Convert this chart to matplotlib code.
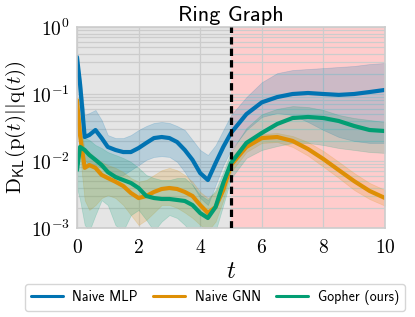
import numpy as np
import matplotlib
matplotlib.use('Agg')
import matplotlib.pyplot as plt

plt.rcParams['mathtext.fontset'] = 'cm'

# time grid shared by every series
t = [0, 0.1, 0.25, 0.4, 0.6, 0.8,
     1.0, 1.25, 1.5, 1.75, 2.0, 2.25, 2.5, 2.75, 3.0, 3.25, 3.5, 3.75,
     4.0, 4.25, 4.5, 4.75, 5.0,
     5.5, 6.0, 6.5, 7.0, 7.5, 8.0, 8.5, 9.0, 9.5, 10.0]

mlp_mean = [0.356, 0.14, 0.0228, 0.0244, 0.029, 0.022,
            0.0162, 0.0146, 0.0136, 0.0136, 0.0156, 0.0186, 0.022, 0.0228, 0.022, 0.0192, 0.0146, 0.0104,
            0.0066, 0.0052, 0.0093, 0.0162, 0.0262,
            0.050, 0.075, 0.090, 0.100, 0.1035, 0.100, 0.097, 0.100, 0.107, 0.115]
mlp_hi = [0.356, 0.2, 0.0486, 0.052, 0.0577, 0.0409,
          0.0244, 0.022, 0.022, 0.0244, 0.029, 0.0333, 0.037, 0.0382, 0.037, 0.0333, 0.029, 0.0206,
          0.0146, 0.0123, 0.0173, 0.029, 0.0486,
          0.090, 0.15, 0.205, 0.228, 0.236, 0.244, 0.253, 0.262, 0.28, 0.29]
mlp_lo = [0.356, 0.03, 0.0104, 0.0087, 0.0087, 0.0079,
          0.00685, 0.00618, 0.00618, 0.0073, 0.0087, 0.0104, 0.0115, 0.0118, 0.0115, 0.0097, 0.00685, 0.00439,
          0.0028, 0.0022, 0.0044, 0.0087, 0.0146,
          0.029, 0.0454, 0.052, 0.0486, 0.0382, 0.029, 0.0228, 0.0199, 0.0186, 0.0186]

gnn_mean = [0.0813, 0.024, 0.0079, 0.0087, 0.0079, 0.0062,
            0.00557, 0.0049, 0.00424, 0.00333, 0.0028, 0.0030, 0.00345, 0.00382, 0.00395, 0.00382, 0.00345, 0.0030,
            0.0022, 0.00167, 0.00206, 0.00369, 0.0087,
            0.0162, 0.022, 0.0228, 0.0199, 0.0151, 0.0107, 0.0073, 0.0050, 0.00357, 0.0028]
gnn_hi = [0.0813, 0.04, 0.0146, 0.0136, 0.0111, 0.0097,
          0.0087, 0.0079, 0.00685, 0.00557, 0.0049, 0.0052, 0.00618, 0.0073, 0.0079, 0.0073, 0.00618, 0.0049,
          0.00345, 0.0028, 0.00345, 0.00557, 0.0111,
          0.0206, 0.0253, 0.0262, 0.0236, 0.0192, 0.0141, 0.0097, 0.0066, 0.0047, 0.00369]
gnn_lo = [0.0813, 0.012, 0.0026, 0.00186, 0.0022, 0.0028,
          0.0031, 0.0028, 0.0022, 0.00156, 0.00111, 0.00132, 0.0017, 0.0022, 0.0022, 0.002, 0.0017, 0.00141,
          0.00111, 0.0009, 0.00125, 0.0026, 0.00685,
          0.0136, 0.0186, 0.0192, 0.0162, 0.012, 0.0082, 0.00557, 0.00369, 0.0027, 0.00215]

gopher_mean = [0.0073, 0.0162, 0.0146, 0.0123, 0.0104, 0.0087,
               0.00685, 0.00577, 0.0052, 0.0047, 0.00395, 0.0030, 0.0028, 0.00271, 0.00271, 0.00262, 0.00253, 0.0022,
               0.00167, 0.00141, 0.00206, 0.0047, 0.0093,
               0.0186, 0.0262, 0.0357, 0.0438, 0.0454, 0.0438, 0.0395, 0.0333, 0.029, 0.028]
gopher_hi = [0.012, 0.0244, 0.022, 0.0206, 0.0173, 0.0156,
             0.0136, 0.0123, 0.0111, 0.0097, 0.0079, 0.00618, 0.00557, 0.0052, 0.0052, 0.00557, 0.00557, 0.00439,
             0.00311, 0.00262, 0.00369, 0.00685, 0.0136,
             0.0311, 0.050, 0.060, 0.066, 0.064, 0.0577, 0.0486, 0.0438, 0.0409, 0.0382]
gopher_lo = [0.004, 0.0026, 0.00111, 0.0009, 0.00156, 0.0026,
             0.0022, 0.0011, 0.0009, 0.00156, 0.00186, 0.00132, 0.0009, 0.00125, 0.00156, 0.00141, 0.00111, 0.0008,
             0.0008, 0.0008, 0.0009, 0.0022, 0.0055,
             0.0111, 0.0146, 0.0167, 0.0186, 0.0186, 0.0173, 0.0156, 0.0146, 0.0136, 0.0132]

names = ['Naive MLP', 'Naive GNN', 'Gopher (ours)']
colors = ['#0173b2', '#de8f05', '#029e73']
x_ticks = [0, 2, 4, 6, 8, 10]
y_ticks = [1e-3, 1e-2, 1e-1, 1e0]
y_tick_labels = ['$10^{-3}$', '$10^{-2}$', '$10^{-1}$', '$10^{0}$']
t_split = 5

fig = plt.figure(figsize=(4.15, 3.17), dpi=100)
ax = fig.add_axes([0.1855, 0.2808, 0.7422, 0.634])

ax.axvspan(0, t_split, color='#e5e5e5', zorder=0.1, lw=0)
ax.axvspan(t_split, 10, color='#ffcccc', zorder=0.1, lw=0)

series = [(mlp_mean, mlp_lo, mlp_hi), (gnn_mean, gnn_lo, gnn_hi),
          (gopher_mean, gopher_lo, gopher_hi)]
for (m, lo, hi), name, c in zip(series, names, colors):
    ax.fill_between(t, lo, hi, color=c, alpha=0.2, lw=0.5, zorder=1)
    ax.plot(t, m, color=c, lw=3, label=name, zorder=2, solid_capstyle='round')

ax.axvline(t_split, color='black', lw=2.3, dashes=(2.3, 1.3), zorder=3)

ax.set_yscale('log')
ax.set_xlim(0, 10)
ax.set_ylim(1e-3, 1)
ax.set_xticks(x_ticks, [f'${v}$' for v in x_ticks])
ax.set_yticks(y_ticks, y_tick_labels)
ax.yaxis.set_minor_locator(matplotlib.ticker.LogLocator(base=10, subs=np.arange(2, 10)))
ax.yaxis.set_minor_formatter(matplotlib.ticker.NullFormatter())
ax.tick_params(which='both', length=0, labelsize=14)
ax.tick_params(axis='x', pad=7)
ax.tick_params(axis='y', pad=5)

ax.set_axisbelow(True)
ax.grid(True, which='major', color='#cccccc', lw=0.9)
ax.grid(True, which='minor', axis='y', color='#cccccc', lw=0.9)
for s in ax.spines.values():
    s.set_color('#cccccc')
    s.set_linewidth(1.2)

ax.set_title('Ring Graph', family='cmss10', fontsize=16, pad=4)
ax.set_xlabel('$t$', fontsize=18, labelpad=2)
ax.set_ylabel(r'$\mathrm{D}_{\mathsf{KL}}(\mathrm{p}(t)||\mathrm{q}(t))$', fontsize=15, labelpad=2)

leg = fig.legend(loc='center', bbox_to_anchor=(0.518, 0.0615), ncol=3,
                 prop={'family': 'cmss10', 'size': 10}, frameon=True, fancybox=True,
                 edgecolor='#cccccc', handlelength=2.3, columnspacing=1.1, handletextpad=0.7)
for line in leg.get_lines():
    line.set_linewidth(2.2)

fig.savefig('out.png', dpi=100)
